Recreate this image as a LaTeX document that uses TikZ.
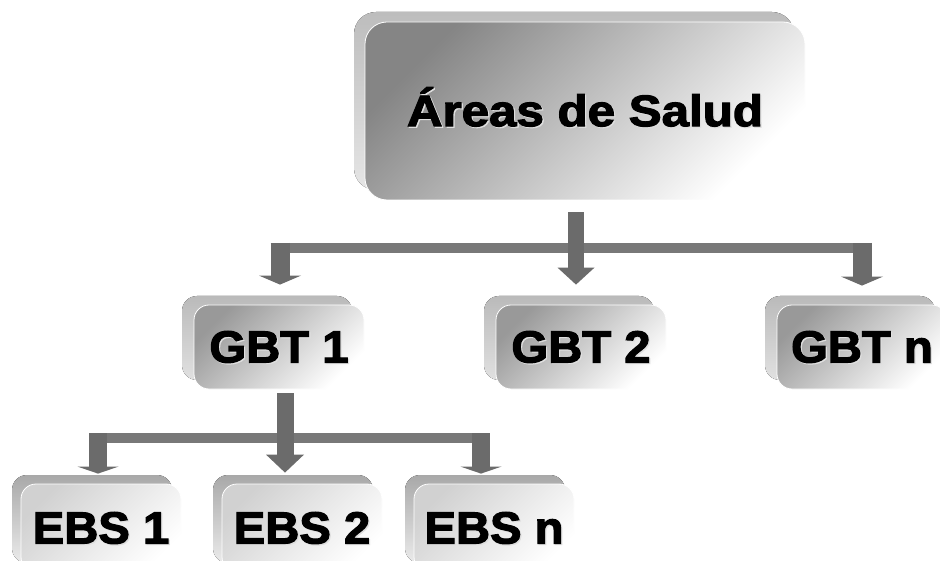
\documentclass[tikz,border=0pt]{standalone}
\usepackage{fontspec}
\usepackage{graphicx}
\setmainfont{Liberation Sans}
\newfontfamily\labelfont[FakeBold=2.5]{Liberation Sans Bold}
\usetikzlibrary{arrows.meta,shadows,calc}

\definecolor{arrowgray}{HTML}{6B6B6B}
\definecolor{bargray}{HTML}{787878}

% heavy label with a faint offset shadow, widened by #2, caps-height box
\newcommand\boxlabel[3]{{\fontsize{#1}{#1}\labelfont
  \raisebox{0pt}[\fontcharht\font`H][0pt]{\scalebox{#2}[1]{%
    \makebox[0pt][l]{\hspace{1.2pt}\raisebox{-1.2pt}{\color{black!13}#3}}#3}}}}

\tikzset{
  x=1pt, y=-1pt,
  plate/.style={rounded corners=#1, draw=white, line width=0.8pt, inner sep=0pt},
  topbox/.style={plate=22pt, minimum width=440pt, minimum height=178pt,
    top color=black!48, middle color=black!12, bottom color=white, shading angle=45,
    copy shadow={shadow xshift=-11pt, shadow yshift=10pt, draw=none,
      top color=black!26, bottom color=black!10}},
  gbtbox/.style={plate=15pt, minimum width=170pt, minimum height=84pt,
    top color=black!40, middle color=black!9, bottom color=white, shading angle=45,
    copy shadow={shadow xshift=-12pt, shadow yshift=9pt, draw=none,
      top color=black!27, bottom color=black!12}},
  ebsbox/.style={plate=15pt, minimum width=160pt, minimum height=88pt,
    top color=black!18, middle color=black!5, bottom color=white, shading angle=45,
    copy shadow={shadow xshift=-9pt, shadow yshift=9pt, draw=none,
      top color=black!34, bottom color=black!8}},
  mainarrow/.style={draw=arrowgray, line width=16pt,
    -{Triangle[width=37pt,length=17pt,line width=0pt]}},
  sidearrow/.style={draw=arrowgray, line width=19pt,
    -{Triangle[width=42pt,length=9pt,line width=0pt]}},
  lowmain/.style={draw=arrowgray, line width=17pt,
    -{Triangle[width=38pt,length=18pt,line width=0pt]}},
  lowside/.style={draw=arrowgray, line width=18pt,
    -{Triangle[width=41pt,length=7pt,line width=0pt]}},
  bar/.style={draw=bargray, line width=10pt},
}

\begin{document}
\begin{tikzpicture}
  \clip (0,0) rectangle (940,561);
  \fill[white] (0,0) rectangle (940,561);

  % boxes
  \node[topbox] (top) at (585,111) {\boxlabel{44}{1.12}{Áreas de Salud}};

  \node[gbtbox] (gbt1) at (279,347) {\boxlabel{45}{1.05}{GBT 1}};
  \node[gbtbox] (gbt2) at (581,347) {\boxlabel{45}{1.05}{GBT 2}};
  \node[gbtbox] (gbtn) at (862,347) {\boxlabel{45}{1.05}{GBT n}};

  \node[ebsbox] (ebs1) at (101,528) {\boxlabel{45}{1.05}{EBS 1}};
  \node[ebsbox] (ebs2) at (302,528) {\boxlabel{45}{1.05}{EBS 2}};
  \node[ebsbox] (ebsn) at (494,528) {\boxlabel{45}{1.05}{EBS n}};

  % junction points on the distribution bars
  \coordinate (ja) at (576,248);
  \coordinate (j1) at (280,248);
  \coordinate (jn) at (862,248);
  \coordinate (kb) at (285,438);
  \coordinate (k1) at (98,438);
  \coordinate (kn) at (481,438);

  % first level connectors
  \draw[bar, shorten <=-9.5pt, shorten >=-9.5pt] (j1) -- (jn);
  \draw[sidearrow, shorten <=-5pt, shorten >=20pt] (j1) -- (gbt1.north -| j1);
  \draw[sidearrow, shorten <=-5pt, shorten >=19pt] (jn) -- (gbtn.north -| jn);
  \draw[mainarrow, shorten <=12pt, shorten >=20pt] (top.south -| ja) -- (gbt2.north -| ja);

  % second level connectors
  \draw[bar, shorten <=-9pt, shorten >=-9pt] (k1) -- (kn);
  \draw[lowside, shorten <=-5pt, shorten >=10pt] (k1) -- (ebs1.north -| k1);
  \draw[lowside, shorten <=-5pt, shorten >=10pt] (kn) -- (ebsn.north -| kn);
  \draw[lowmain, shorten <=4pt, shorten >=11pt] (gbt1.south -| kb) -- (ebs2.north -| kb);
\end{tikzpicture}
\end{document}
